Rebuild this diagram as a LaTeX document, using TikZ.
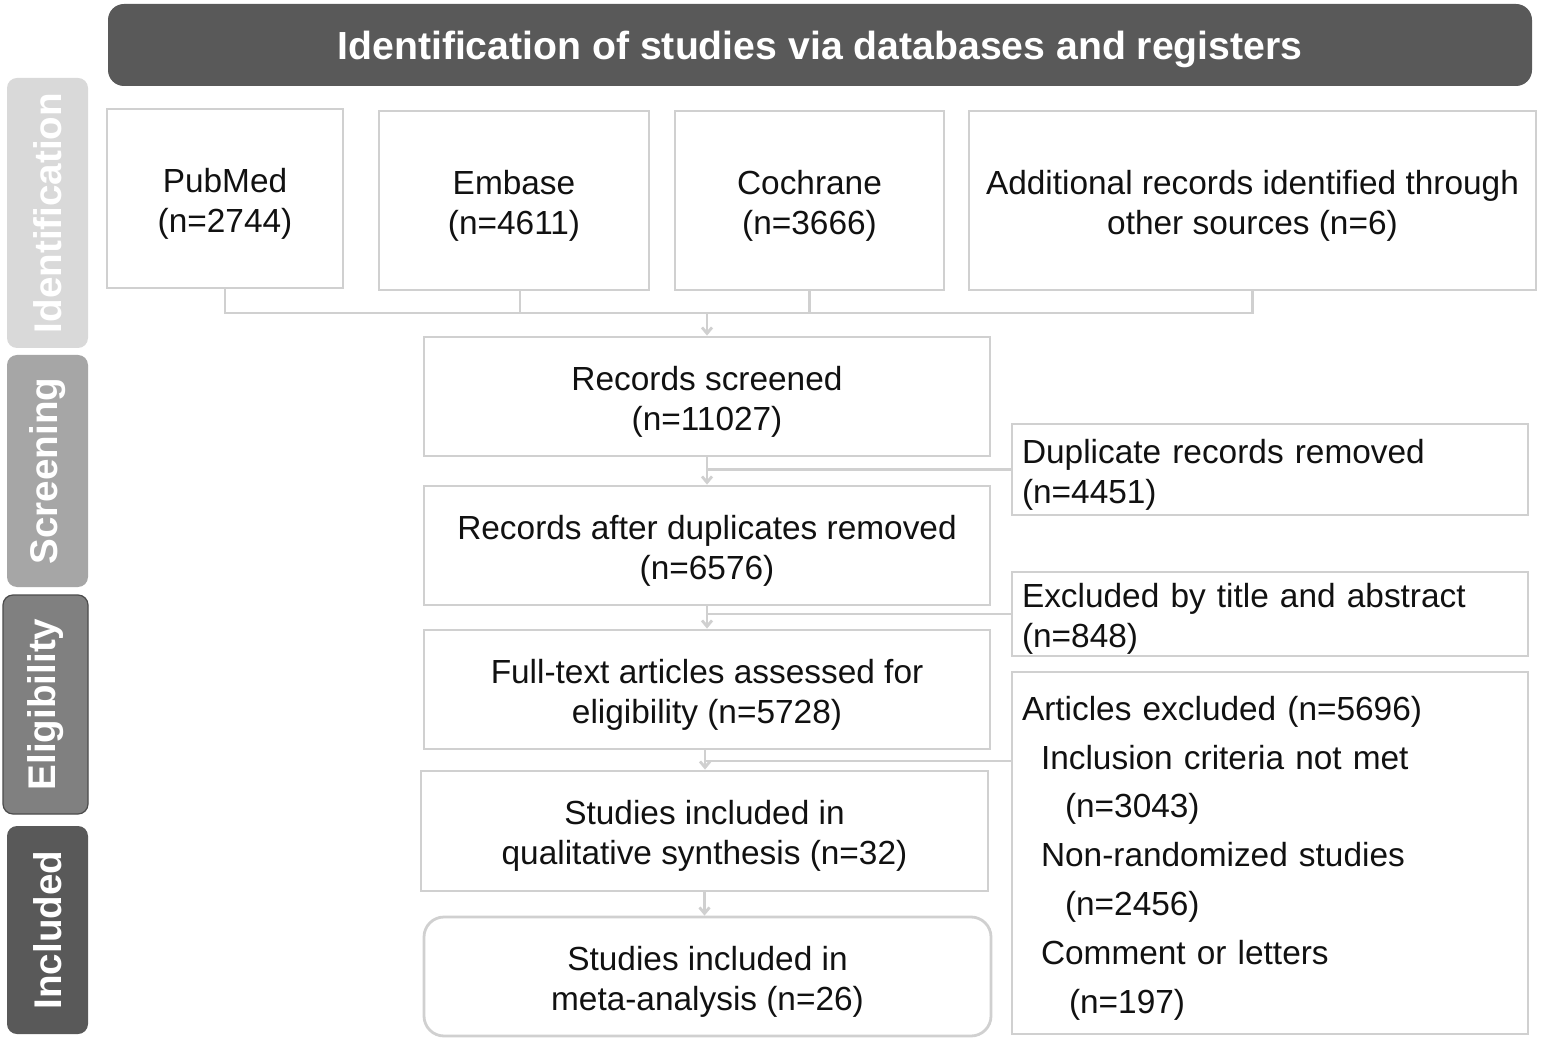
\documentclass[tikz,border=0pt]{standalone}
\usepackage{fontspec}
\setmainfont{Liberation Sans}
\usetikzlibrary{arrows.meta}
\definecolor{bord}{HTML}{D0D0D0}
\definecolor{hdr}{HTML}{595959}
\definecolor{sideA}{HTML}{D9D9D9}
\definecolor{sideB}{HTML}{A6A6A6}
\definecolor{sideC}{HTML}{808080}
\definecolor{sideD}{HTML}{595959}
\definecolor{txt}{HTML}{111111}
\begin{document}
\begin{tikzpicture}[x=0.5pt,y=-0.5pt,
  box/.style={draw=bord,line width=1.4pt,fill=white,inner sep=0pt},
  lbl/.style={inner sep=0pt,align=center,font=\fontsize{16.7}{20}\selectfont,text=txt,yshift=-2.5pt},
  lbll/.style={inner sep=0pt,align=left,text width=248pt,font=\fontsize{16.7}{20}\selectfont,text=txt,yshift=-2.5pt},
  side/.style={rotate=90,rounded corners=5pt,inner sep=0pt,text=white,
    font=\fontsize{19.3}{22}\selectfont\bfseries},
  line/.style={draw=bord,line width=1.4pt},
  arr/.style={line,-{Straight Barb[length=3pt,width=5pt]}}]
\useasboundingbox[fill=white] (0,0) rectangle (1541,1042);

% header
\node[fill=hdr,rounded corners=8pt,minimum width=712pt,minimum height=41pt,inner sep=0pt] (hd) at (820,45) {};
\node[inner sep=0pt,text=white,font=\fontsize{19.6}{22}\selectfont\bfseries,yshift=-2pt] (hdt) at (hd.center)
  {Identification of studies via databases and registers};

% side labels
\node[side,fill=sideA,minimum width=135pt,minimum height=40.5pt] (ide) at (47.5,213) {Identification};
\node[side,fill=sideB,minimum width=116pt,minimum height=40.5pt] (scn) at (47.5,471) {Screening};
\node[side,fill=sideC,draw=black!70,line width=0.6pt,minimum width=109.5pt,minimum height=42.5pt] (eli) at (45.5,704.5) {Eligibility};
\node[side,fill=sideD,minimum width=104pt,minimum height=40.5pt] (inc) at (47.5,930) {Included};

% top boxes
\node[box,minimum width=118pt,minimum height=89.5pt] (pub) at (225,198.5) {};
\node[lbl] (pubt) at (pub.center) {PubMed\\(n=2744)};
\node[box,minimum width=135pt,minimum height=89.5pt] (emb) at (514,200.5) {};
\node[lbl] (embt) at (emb.center) {Embase\\(n=4611)};
\node[box,minimum width=134.5pt,minimum height=89.5pt] (coc) at (809.5,200.5) {};
\node[lbl] (coct) at (coc.center) {Cochrane\\(n=3666)};
\node[box,minimum width=283.5pt,minimum height=89.5pt] (add) at (1252.5,200.5) {};
\node[lbl] (addt) at (add.center) {Additional records identified through\\other sources (n=6)};

% main column
\node[box,minimum width=283pt,minimum height=59.5pt] (scr) at (707,396.5) {};
\node[lbl] (scrt) at (scr.center) {Records screened\\(n=11027)};
\node[box,minimum width=283pt,minimum height=59.5pt] (aft) at (707,545.5) {};
\node[lbl] (aftt) at (aft.center) {Records after duplicates removed\\(n=6576)};
\node[box,minimum width=283pt,minimum height=59.5pt] (ful) at (707,689.5) {};
\node[lbl] (fult) at (ful.center) {Full-text articles assessed for\\eligibility (n=5728)};
\node[box,minimum width=283.5pt,minimum height=60pt] (qua) at (704.5,831) {};
\node[lbl] (quat) at (qua.center) {Studies included in\\qualitative synthesis (n=32)};
\node[box,rounded corners=10pt,minimum width=283.5pt,minimum height=59.5pt] (met) at (707.5,976.5) {};
\node[lbl] (mett) at (met.center) {Studies included in\\meta-analysis (n=26)};

% side boxes
\node[box,minimum width=258pt,minimum height=45.5pt] (dup) at (1270,469.5) {};
\node[lbll] (dupt) at (dup.center) {Duplicate records removed\\(n=4451)};
\node[box,minimum width=258pt,minimum height=42pt] (exc) at (1270,614) {};
\node[lbll] (exct) at (exc.center) {Excluded by title and abstract\\(n=848)};
\node[box,minimum width=258pt,minimum height=181pt] (art) at (1270,853) {};
\node[lbll,font=\fontsize{16.7}{24.4}\selectfont] (artt) at (art.center)
  {Articles excluded (n=5696)\\
   \hspace*{9.5pt}Inclusion criteria not met\\
   \hspace*{21.5pt}(n=3043)\\
   \hspace*{9.5pt}Non-randomized studies\\
   \hspace*{21.5pt}(n=2456)\\
   \hspace*{9.5pt}Comment or letters\\
   \hspace*{23.5pt}(n=197)};

% connectors
\coordinate (jt) at (707,313);
\draw[line] (pub.south) |- (jt);
\draw[line] (add.south) |- (jt);
\draw[line] ([xshift=3pt]emb.south) -- ([xshift=3pt]emb.south |- jt);
\draw[line] (coc.south) -- (coc.south |- jt);
\draw[arr] (jt) -- (scr.north);

\draw[arr] (scr.south) -- (aft.north);
\draw[line] (dup.west) -- (dup.west -| scr.south);
\draw[arr] (aft.south) -- (ful.north);
\draw[line] (exc.west) -- (exc.west -| aft.south);
\draw[arr] ([xshift=-1pt]ful.south) -- ([xshift=-1pt]ful.south |- qua.north);
\coordinate (j3) at (705,761);
\draw[line] (j3 -| art.west) -- (j3);
\draw[arr] (qua.south) -- (qua.south |- met.north);
\end{tikzpicture}
\end{document}
